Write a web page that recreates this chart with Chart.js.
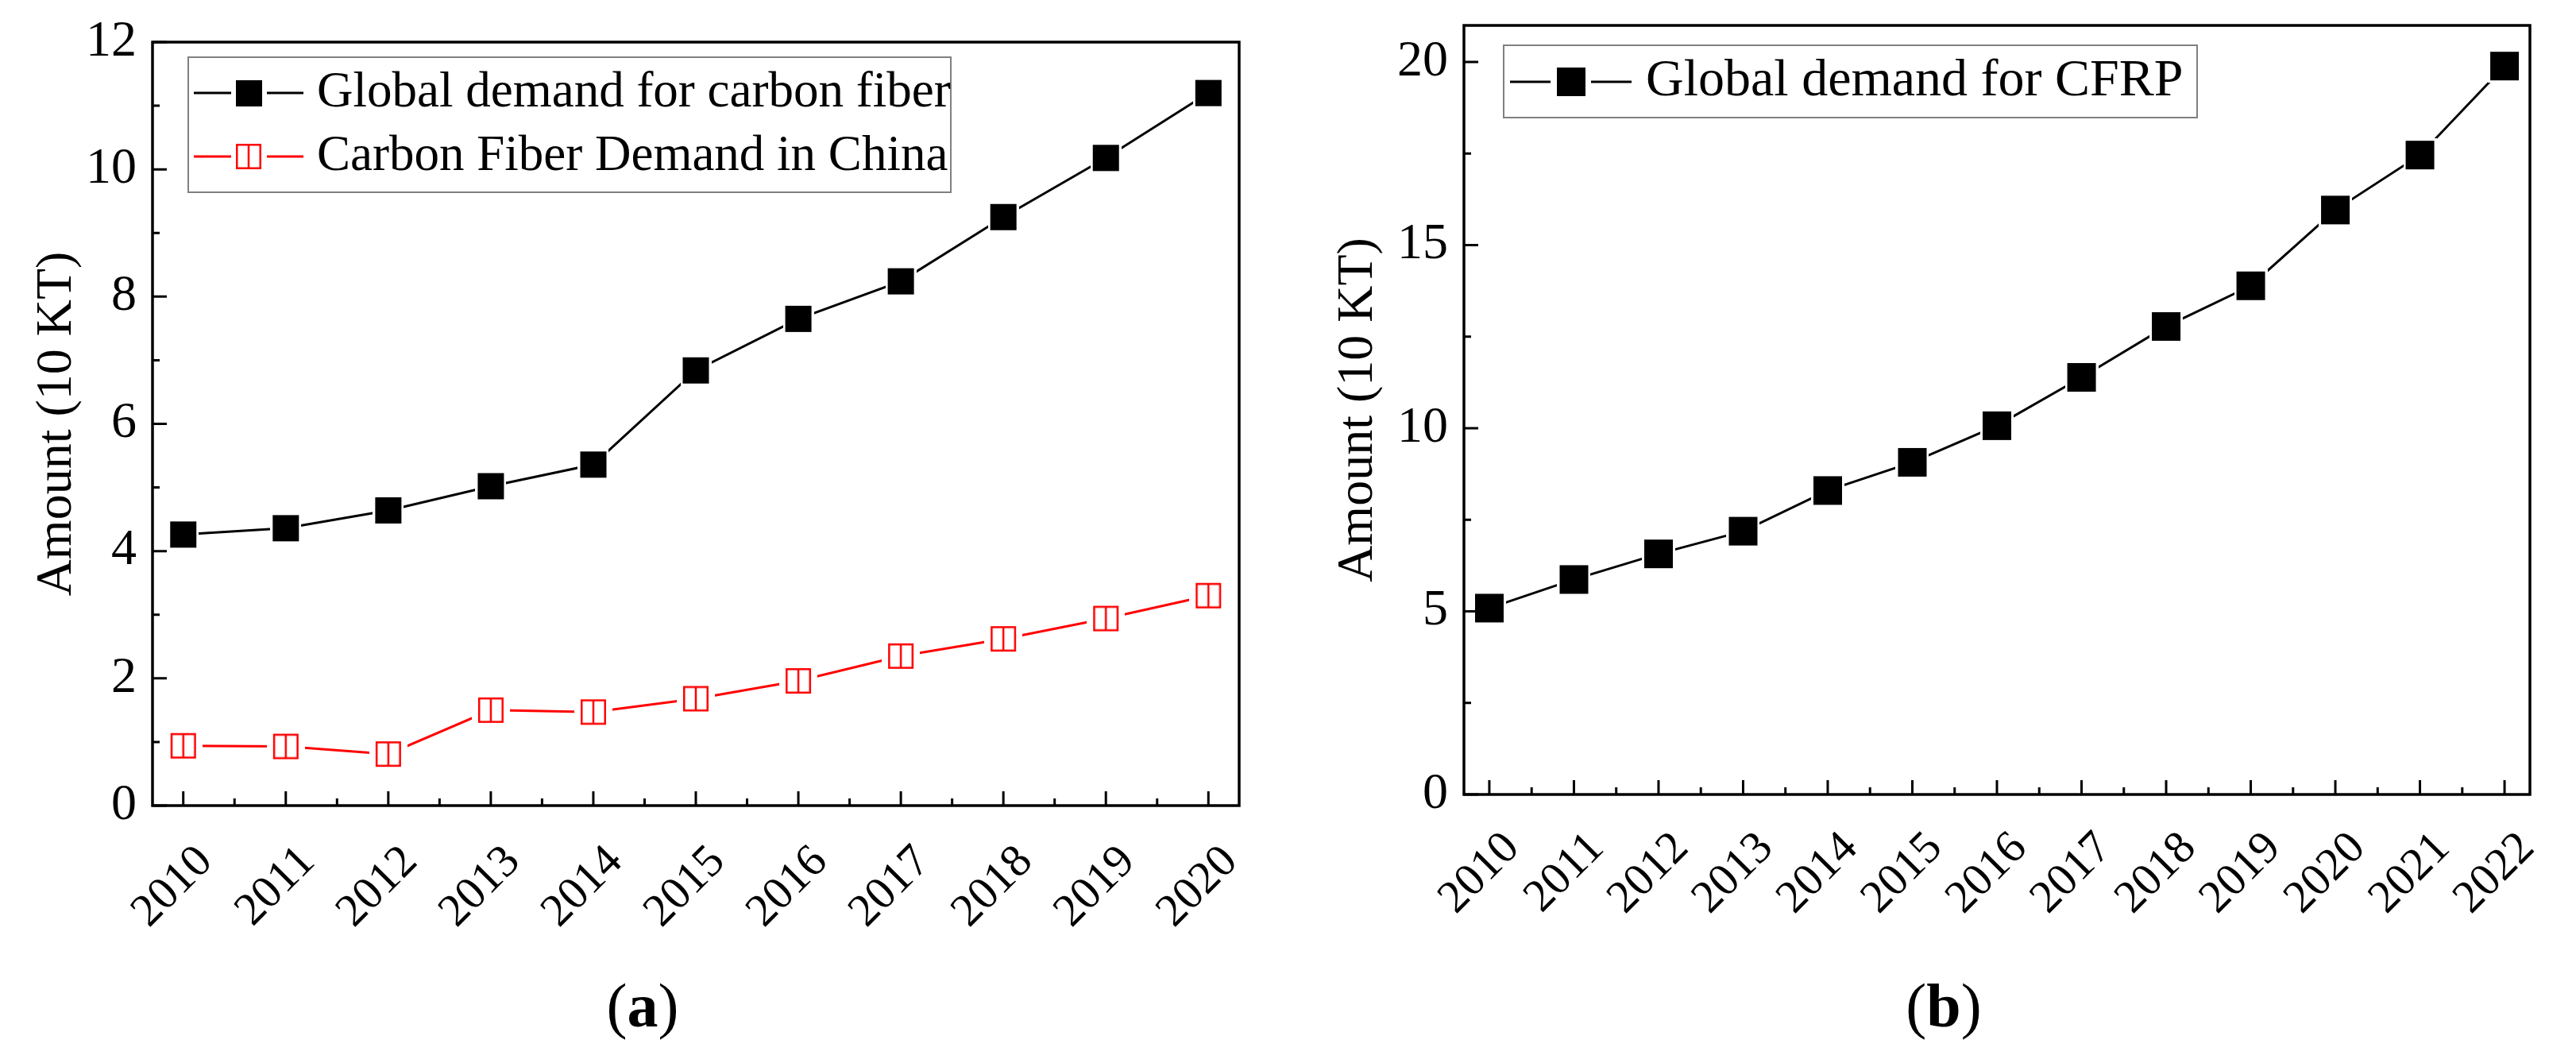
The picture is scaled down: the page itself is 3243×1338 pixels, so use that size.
<!DOCTYPE html>
<html><head><meta charset="utf-8">
<script src="https://cdn.jsdelivr.net/npm/chart.js@4.4.1/dist/chart.umd.min.js"></script>
<style>
html,body{margin:0;padding:0;background:#fff;width:3243px;height:1338px;overflow:hidden;}
.panel{position:absolute;top:0;}
#pa{left:0;width:1620px;height:1338px;}
#pb{left:1620px;width:1623px;height:1338px;}
.cap{position:absolute;font-family:"Liberation Serif",serif;font-size:78px;line-height:1;color:#000;transform:translate(-50%,-50%);white-space:nowrap;}
</style></head><body>
<div class="panel" id="pa"><canvas id="ca" width="1620" height="1338"></canvas></div>
<div class="panel" id="pb"><canvas id="cb" width="1623" height="1338"></canvas></div>
<div class="cap" style="left:809px;top:1266px">(<b>a</b>)</div>
<div class="cap" style="left:2447px;top:1266px">(<b>b</b>)</div>
<script>
// ---------- data ----------
const yearsA = [2010, 2011, 2012, 2013, 2014, 2015, 2016, 2017, 2018, 2019, 2020];
const globalCarbonFiber = [4.26, 4.36, 4.64, 5.02, 5.36, 6.84, 7.65, 8.24, 9.25, 10.18, 11.2];
const chinaCarbonFiber = [0.94, 0.93, 0.81, 1.50, 1.47, 1.68, 1.96, 2.35, 2.62, 2.94, 3.30];
const xLabelsA = ['2010','2011','2012','2013','2014','2015','2016','2017','2018','2019','2020'];
const yTicksA = [0, 2, 4, 6, 8, 10, 12];
const yLabelsA = ['0','2','4','6','8','10','12'];
const seriesNamesA = ['Global demand for carbon fiber', 'Carbon Fiber Demand in China'];

const yearsB = [2010, 2011, 2012, 2013, 2014, 2015, 2016, 2017, 2018, 2019, 2020, 2021, 2022];
const globalCFRP = [5.09, 5.87, 6.57, 7.19, 8.30, 9.07, 10.07, 11.39, 12.78, 13.89, 15.96, 17.46, 19.89];
const xLabelsB = ['2010','2011','2012','2013','2014','2015','2016','2017','2018','2019','2020','2021','2022'];
const yTicksB = [0, 5, 10, 15, 20];
const yLabelsB = ['0','5','10','15','20'];
const seriesNameB = 'Global demand for CFRP';
const yTitle = 'Amount (10 KT)';

// ---------- helpers ----------
const FONT = '"Liberation Serif", "Times New Roman", serif';
Chart.defaults.font.family = FONT;
Chart.defaults.color = '#000';

function marker(size, o) {
  const m = o.margin, n = size + 2 * m;
  const c = document.createElement('canvas');
  c.width = n; c.height = n;
  const g = c.getContext('2d');
  g.fillStyle = '#fff'; g.fillRect(0, 0, n, n);
  if (o.fill) { g.fillStyle = o.fill; g.fillRect(m, m, size, size); }
  if (o.stroke) {
    g.strokeStyle = o.stroke; g.lineWidth = o.lw;
    g.strokeRect(m + o.lw / 2, m + o.lw / 2, size - o.lw, size - o.lw);
    if (o.split) { g.beginPath(); g.moveTo(n / 2, m); g.lineTo(n / 2, m + size); g.stroke(); }
  }
  return c;
}
const mids = arr => arr.slice(1).map((v, i) => (v + arr[i]) / 2);
const pts = (xs, ys) => xs.map((x, i) => ({x: x, y: ys[i]}));

function framePlugin(cfg) {
  return {
    id: 'originFrame',
    afterDatasetsDraw(chart) {
      const {ctx, chartArea: a, scales: {x, y}} = chart;
      ctx.save();
      ctx.strokeStyle = '#000';
      ctx.lineWidth = 3;
      ctx.lineCap = 'butt';
      ctx.beginPath();
      cfg.xMajor.forEach(v => { const p = x.getPixelForValue(v); ctx.moveTo(p, a.bottom); ctx.lineTo(p, a.bottom - 18); });
      mids(cfg.xMajor).forEach(v => { const p = x.getPixelForValue(v); ctx.moveTo(p, a.bottom); ctx.lineTo(p, a.bottom - 9); });
      cfg.yMajor.forEach(v => { const p = y.getPixelForValue(v); ctx.moveTo(a.left, p); ctx.lineTo(a.left + 18, p); });
      mids(cfg.yMajor).forEach(v => { const p = y.getPixelForValue(v); ctx.moveTo(a.left, p); ctx.lineTo(a.left + 9, p); });
      ctx.stroke();
      ctx.lineWidth = 3.5;
      ctx.strokeRect(a.left, a.top, a.width, a.height);
      // legend
      const L = cfg.legend;
      ctx.fillStyle = '#fff';
      ctx.fillRect(L.x, L.y, L.w, L.h);
      ctx.strokeStyle = '#808080';
      ctx.lineWidth = 2;
      ctx.strokeRect(L.x, L.y, L.w, L.h);
      L.rows.forEach((r, i) => {
        const ds = chart.data.datasets[i];
        ctx.strokeStyle = ds.borderColor;
        ctx.lineWidth = ds.borderWidth;
        ctx.beginPath();
        ctx.moveTo(L.l1[0], r.cy); ctx.lineTo(L.l1[1], r.cy);
        ctx.moveTo(L.l2[0], r.cy); ctx.lineTo(L.l2[1], r.cy);
        ctx.stroke();
        ctx.drawImage(r.img, L.mk - r.img.width / 2, r.cy - r.img.height / 2);
        ctx.fillStyle = '#000';
        ctx.font = L.fontSize + 'px ' + FONT;
        ctx.textBaseline = 'middle';
        ctx.textAlign = 'left';
        ctx.fillText(ds.label, L.tx, r.cy);
      });
      ctx.restore();
    }
  };
}

function xScale(years, labels, min, max, h, pad, off) {
  return {
    type: 'linear', min: min, max: max,
    afterBuildTicks: s => { s.ticks = years.map(v => ({value: v})); },
    afterFit: s => { s.height = h; s.paddingLeft = 0; s.paddingRight = 0; },
    grid: {display: false, drawTicks: false},
    border: {display: false},
    ticks: {autoSkip: false, minRotation: 45, maxRotation: 45, padding: pad, labelOffset: off,
            font: {family: FONT, size: 58}, color: '#000',
            callback: (v, i) => labels[i]}
  };
}
function yScale(ticks, labels, max, w, titlePad) {
  return {
    min: 0, max: max,
    afterBuildTicks: s => { s.ticks = ticks.map(v => ({value: v})); },
    afterFit: s => { s.width = w; s.paddingTop = 0; s.paddingBottom = 0; },
    grid: {display: false, drawTicks: false},
    border: {display: false},
    ticks: {padding: 20, font: {family: FONT, size: 64, lineHeight: 1}, color: '#000',
            callback: (v, i) => labels[i]},
    title: {display: true, text: yTitle, color: '#000',
            font: {family: FONT, size: 64, lineHeight: 1.2}, padding: {top: titlePad, bottom: 0}}
  };
}

// ---------- chart (a) ----------
const mkBlackA = marker(33, {fill: '#000', margin: 3});
const mkRedA = marker(32, {stroke: '#ff0000', lw: 2.5, split: true, margin: 8});
new Chart(document.getElementById('ca'), {
  type: 'line',
  data: {
    datasets: [
      {label: seriesNamesA[0], data: pts(yearsA, globalCarbonFiber), borderColor: '#000', borderWidth: 3,
       pointStyle: mkBlackA, pointRadius: 17, tension: 0},
      {label: seriesNamesA[1], data: pts(yearsA, chinaCarbonFiber), borderColor: '#ff0000', borderWidth: 3,
       pointStyle: mkRedA, pointRadius: 17, tension: 0}
    ]
  },
  options: {
    responsive: false, animation: false, events: [],
    layout: {padding: {left: 0, right: 60, top: 53, bottom: 0}},
    plugins: {legend: {display: false}, tooltip: {enabled: false}},
    scales: {
      x: xScale(yearsA, xLabelsA, 2009.7, 2020.3, 324, 37, 28),
      y: yScale(yTicksA, yLabelsA, 12, 192, 34)
    }
  },
  plugins: [framePlugin({
    xMajor: yearsA, yMajor: yTicksA,
    legend: {x: 237, y: 72, w: 960, h: 170, l1: [244, 291], l2: [336, 382], mk: 313, tx: 399, fontSize: 63,
             rows: [{cy: 117, img: marker(33, {fill: '#000', margin: 0})},
                    {cy: 197, img: marker(32, {stroke: '#ff0000', lw: 2.5, split: true, margin: 0})}]}
  })]
});

// ---------- chart (b) ----------
const mkBlackB = marker(36, {fill: '#000', margin: 3});
new Chart(document.getElementById('cb'), {
  type: 'line',
  data: {
    datasets: [
      {label: seriesNameB, data: pts(yearsB, globalCFRP), borderColor: '#000', borderWidth: 3,
       pointStyle: mkBlackB, pointRadius: 19, tension: 0}
    ]
  },
  options: {
    responsive: false, animation: false, events: [],
    layout: {padding: {left: 0, right: 58, top: 32, bottom: 0}},
    plugins: {legend: {display: false}, tooltip: {enabled: false}},
    scales: {
      x: xScale(yearsB, xLabelsB, 2009.7, 2022.3, 338, 34, 29),
      y: yScale(yTicksB, yLabelsB, 21, 223, 52)
    }
  },
  plugins: [framePlugin({
    xMajor: yearsB, yMajor: yTicksB,
    legend: {x: 273, y: 57, w: 873, h: 91, l1: [281, 332], l2: [383, 434], mk: 357.5, tx: 452, fontSize: 66,
             rows: [{cy: 103, img: marker(36, {fill: '#000', margin: 0})}]}
  })]
});
</script>
</body></html>
